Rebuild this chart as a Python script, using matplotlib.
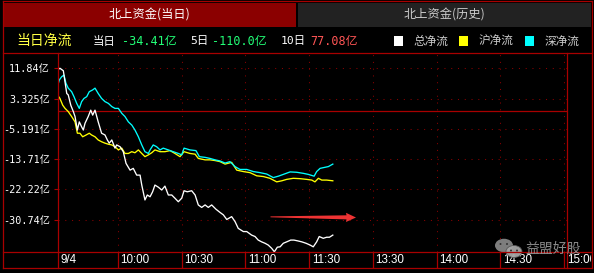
import matplotlib
matplotlib.use('Agg')
import matplotlib.pyplot as plt
import numpy as np
from matplotlib.lines import Line2D
from matplotlib.patches import Rectangle, Polygon, Ellipse
from matplotlib.transforms import Bbox

plt.rcParams['font.family'] = ['Noto Sans CJK SC', 'DejaVu Sans']

# minutes since 9:30 (trading time, lunch break removed), values in 亿
total_t = [1.6, 2.8, 4.4, 6.0, 6.7, 7.9, 9.1, 9.9, 11.0, 11.9, 13.0, 13.8, 14.6, 16.1, 17.3,
           18.2, 19.3, 20.8, 22.4, 24.0, 25.1, 26.0, 27.2, 28.7, 29.5, 31.1, 32.6, 33.9, 35.8,
           37.3, 38.9, 40.5, 41.3, 42.8, 43.9, 45.2, 46.4, 47.5, 49.1, 50.7, 52.2, 53.8, 55.4,
           56.9, 58.5, 60.1, 61.2, 62.7, 64.8, 66.4, 67.9, 69.5, 71.1, 72.6, 74.2, 76.2, 78.1,
           79.7, 81.3, 83.6, 85.2, 86.7, 89.1, 90.7, 93.0, 94.6, 96.1, 97.7, 99.3, 100.8, 102.4,
           103.7, 105.1, 106.4, 107.9, 109.5, 111.4, 112.9, 114.5, 116.6, 118.6, 120.5, 122.0,
           123.6, 124.8, 126.7, 128.3, 129.6, 131.2]
total_v = [11.4, 11.9, 11.2, 4.8, 4.4, 1.5, -0.3, -1.7, -5.5, -3.2, -4.6, -5.5, -3.6, -1.7, 0.1,
           -1.3, 0.1, -3.2, -6.4, -6.9, -8.3, -9.2, -8.3, -10.6, -9.7, -10.2, -11.6, -14.9, -16.8,
           -16.3, -18.2, -18.2, -21.0, -25.2, -23.8, -24.3, -22.9, -21.0, -21.6, -22.4, -21.3,
           -23.8, -23.8, -24.7, -25.7, -24.7, -22.6, -22.9, -22.6, -23.8, -26.6, -27.3, -26.6,
           -27.3, -26.6, -27.8, -28.7, -29.4, -30.7, -29.9, -31.3, -33.2, -34.1, -34.1, -35.1,
           -35.5, -36.5, -37.0, -37.4, -37.9, -38.8, -39.8, -38.5, -38.4, -37.4, -37.0, -36.5,
           -36.5, -36.7, -37.0, -37.4, -37.9, -38.4, -37.0, -35.5, -36.0, -35.7, -35.7, -35.1]

sh_t = [1.6, 2.8, 4.1, 5.2, 6.7, 8.3, 9.9, 11.0, 12.2, 13.5, 15.1, 16.6, 17.7, 19.3, 20.8, 22.4,
        24.0, 25.6, 27.2, 28.7, 30.3, 31.9, 33.4, 35.0, 36.6, 38.1, 39.7, 41.3, 42.8, 44.4, 46.0,
        47.5, 49.9, 52.2, 54.6, 56.9, 59.3, 61.2, 64.0, 66.4, 67.9, 71.1, 73.4, 75.8, 78.1, 80.5,
        83.6, 86.0, 89.1, 92.2, 95.4, 98.5, 101.6, 104.8, 107.2, 109.5, 112.6, 115.8, 118.9,
        121.3, 122.8, 124.4, 126.0, 128.3, 131.2]
sh_v = [4.4, 3.4, 1.5, 0.6, -0.3, -1.7, -3.2, -6.4, -6.4, -7.4, -6.9, -6.4, -6.9, -7.4, -8.3,
        -8.8, -9.2, -9.5, -9.7, -10.2, -11.1, -10.6, -12.1, -12.1, -11.6, -11.9, -11.1, -12.1,
        -13.0, -12.5, -11.9, -11.1, -11.6, -11.6, -11.3, -12.1, -13.0, -11.6, -12.1, -12.3,
        -13.5, -13.9, -13.9, -14.1, -14.4, -15.1, -14.6, -16.8, -17.2, -17.5, -18.4, -18.6,
        -19.1, -20.1, -19.8, -19.4, -19.1, -19.2, -19.4, -19.6, -20.1, -19.1, -19.6, -19.6, -19.8]

sz_t = [1.6, 2.5, 3.6, 4.7, 5.6, 6.7, 7.5, 8.3, 9.4, 10.7, 11.9, 13.0, 14.1, 15.4, 16.6, 18.2,
        19.3, 20.8, 22.4, 24.0, 25.6, 27.2, 28.7, 30.3, 31.9, 33.4, 35.0, 36.6, 38.1, 39.7, 41.3,
        42.8, 44.4, 45.2, 46.7, 48.3, 49.9, 51.4, 53.8, 56.1, 58.5, 60.1, 61.2, 64.0, 66.8, 68.4,
        71.1, 73.4, 75.8, 78.1, 80.5, 82.8, 85.2, 87.5, 90.7, 93.8, 96.9, 100.1, 103.2, 105.6,
        107.9, 111.1, 114.2, 117.3, 119.7, 122.4, 123.6, 125.2, 127.5, 129.1, 131.2]
sz_v = [6.7, 8.6, 9.5, 10.0, 7.7, 6.3, 5.8, 5.3, 3.9, 2.0, 0.6, 2.5, 3.4, 3.9, 5.3, 5.8, 6.3,
        4.8, 3.4, 2.5, 2.0, 1.1, 0.6, 0.6, -0.8, -1.7, -3.2, -4.1, -5.5, -7.4, -9.7, -11.6, -12.1,
        -11.1, -9.7, -10.2, -11.1, -10.6, -11.1, -11.6, -12.1, -12.5, -10.6, -11.1, -11.3, -13.0,
        -13.2, -13.5, -13.9, -14.2, -14.8, -14.4, -15.8, -16.6, -16.6, -17.2, -17.5, -17.9,
        -18.9, -18.5, -18.0, -17.3, -17.4, -17.7, -18.0, -18.5, -17.2, -16.3, -16.0, -15.8, -15.1]

ytick_vals = [11.84, 3.325, -5.191, -13.71, -22.22, -30.74]
ytick_labels = ['11.84亿', '3.325亿', '-5.191亿', '-13.71亿', '-22.22亿', '-30.74亿']
xtick_vals = [30, 60, 90, 120, 150, 180, 210, 240]
xtick_labels = ['10:00', '10:30', '11:00', '11:30', '13:30', '14:00', '14:30', '15:00']
date_label = '9/4'

tab_labels = ['北上资金(当日)', '北上资金(历史)']
summary = [('当日', '-34.41亿', '#22ff77'), ('5日', '-110.0亿', '#22ff77'), ('10日', '77.08亿', '#ff5555')]
legend_names = ['总净流', '沪净流', '深净流']
line_colors = ['#ffffff', '#ffff00', '#00ffff']

RED = '#a80000'
DOT = '#8a0000'
W, H = 594, 273


def fx(x):
    return x / W


def fy(y):
    return 1 - y / H


def fline(x0, y0, x1, y1, color=RED, lw=0.9):
    fig.add_artist(Line2D([fx(x0), fx(x1)], [fy(y0), fy(y1)], transform=fig.transFigure,
                          color=color, lw=lw))


fig = plt.figure(figsize=(5.94, 2.73), dpi=100, facecolor='black')

# header tabs
fig.add_artist(Rectangle((fx(3), fy(26.7)), (296 - 3) / W, 24 / H, transform=fig.transFigure,
                         facecolor='#8b0000', edgecolor='none'))
fig.add_artist(Rectangle((fx(298), fy(26.7)), (590.5 - 298) / W, 24 / H, transform=fig.transFigure,
                         facecolor='#222222', edgecolor='none'))
fig.text(fx(149.5), fy(15), tab_labels[0], color='white', fontsize=8.8, ha='center', va='center')
fig.text(fx(444), fy(15), tab_labels[1], color='#cccccc', fontsize=8.8, ha='center', va='center')

# second row
mono = ['DejaVu Sans Mono', 'Noto Sans CJK SC']
fig.text(fx(16.5), fy(41), '当日净流', color='#ffff44', fontsize=10, ha='left', va='center')
label_x = [93, 190, 281]
value_x = [121.5, 212.5, 310]
for (lab, val, col), lx, vx in zip(summary, label_x, value_x):
    fig.text(fx(lx), fy(41), lab, color='white', fontsize=8.2, ha='left', va='center', family=mono)
    fig.text(fx(vx), fy(41), val, color=col, fontsize=8.5, ha='left', va='center', family=mono)

sq_x = [394, 459, 525]
txt_x = [413, 479, 545]
for name, col, sx, tx in zip(legend_names, line_colors, sq_x, txt_x):
    fig.add_artist(Rectangle((fx(sx), fy(45.5)), 9 / W, 9.5 / H, transform=fig.transFigure,
                             facecolor=col, edgecolor='none'))
    fig.text(fx(tx), fy(41), name, color='#cccccc', fontsize=8.4, ha='left', va='center')

# main chart
ax = fig.add_axes([fx(57.5), fy(252), (567 - 57.5) / W, (252 - 53) / H])
ax.set_facecolor('black')
ax.set_xlim(1.65, 241.4)
ax.set_ylim(-39.86, 16.2)
for s in ax.spines.values():
    s.set_visible(False)

ax.set_yticks(ytick_vals)
ax.set_yticklabels(ytick_labels, family=mono)
ax.tick_params(axis='y', length=3.2, width=0.8, color=RED, labelcolor='white', labelsize=7.3, pad=2.2)
ax.set_xticks(xtick_vals)
ax.set_xticklabels([])
ax.tick_params(axis='x', length=0)
ax.grid(True, color=DOT, lw=0.75, linestyle=(0, (1, 5.5)))
ax.axhline(0, color=RED, lw=0.9)

ax.plot(sh_t, sh_v, color=line_colors[1], lw=0.95)
ax.plot(sz_t, sz_v, color=line_colors[2], lw=0.95)
ax.plot(total_t, total_v, color=line_colors[0], lw=0.95)

# time axis strip
strip = -16 / 199
clip = Bbox.from_extents(0, 0, 591, H)
ax.vlines(xtick_vals, strip, 0, transform=ax.get_xaxis_transform(), color=RED, lw=0.9, clip_on=False)
for t, lab in zip([ax.get_xlim()[0]] + xtick_vals, [date_label] + xtick_labels):
    txt = ax.annotate(lab, (t, strip / 2), xycoords=('data', 'axes fraction'), xytext=(2, 0),
                      textcoords='offset points', ha='left', va='center', color='white',
                      fontsize=8.4, family=['Liberation Sans', 'DejaVu Sans'], annotation_clip=False)
    txt.set_clip_on(True)
    txt.set_clip_box(clip)

# frame
fline(2.7, 1, 592, 1)
fline(2.7, 1, 2.7, 268)
fline(592, 1, 592, 268)
fline(2.7, 268, 592, 268)
fline(2.7, 53, 592, 53)
fline(57.5, 53, 57.5, 268)
fline(567, 53, 567, 268)
fline(2.7, 252, 592, 252)

# red arrow annotation
arrow_pts = [(270.5, 216.4), (346.5, 215.3), (346, 212.8), (356, 217.5), (346, 222.0),
             (346.5, 219.4), (270.5, 217.3)]
fig.add_artist(Polygon([(fx(x), fy(y)) for x, y in arrow_pts], closed=True, transform=fig.transFigure,
                       facecolor='#ee3333', edgecolor='none'))

# watermark
fig.add_artist(Ellipse((fx(504), fy(245.5)), 18 / W, 13.5 / H, transform=fig.transFigure,
                       facecolor='#8c8c8c', edgecolor='none', alpha=0.9))
fig.add_artist(Ellipse((fx(514), fy(251.5)), 16 / W, 12 / H, transform=fig.transFigure,
                       facecolor='#a6a6a6', edgecolor='#555555', lw=0.6, alpha=0.95))
for ex, ey in [(500.5, 244), (507, 244), (511, 250.5), (517, 250.5)]:
    fig.add_artist(Ellipse((fx(ex), fy(ey)), 2 / W, 2 / H, transform=fig.transFigure,
                           facecolor='#333333', edgecolor='none'))
fig.text(fx(525), fy(248.5), '益盟好股', color='#9a9a9a', fontsize=10, ha='left', va='center', alpha=0.9)

fig.savefig('out.png', dpi=100, facecolor='black')
